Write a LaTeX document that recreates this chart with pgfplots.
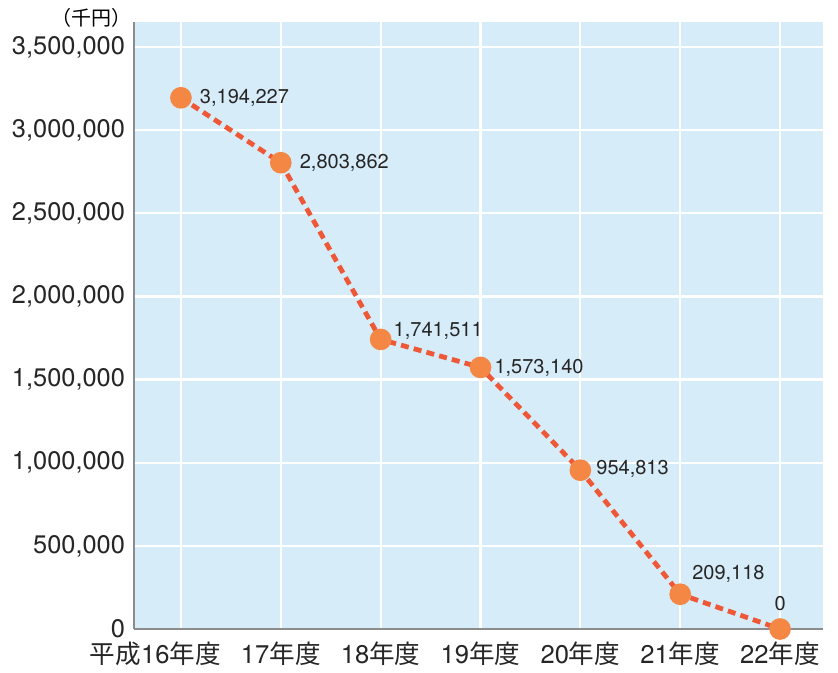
\documentclass[border=0pt]{standalone}
\usepackage{pgfplots}
\pgfplotsset{compat=1.18}
\usepackage{fontspec}
\setmainfont{TeX Gyre Heros}
\newfontfamily\jp{Noto Sans CJK JP}
\definecolor{bgblue}{RGB}{214,236,249}
\definecolor{lineorange}{RGB}{238,88,55}
\definecolor{markorange}{RGB}{244,135,68}
\definecolor{spine}{RGB}{140,140,140}
\begin{document}
\begin{tikzpicture}
\begin{axis}[
  scale only axis,
  width=344.5pt, height=303.5pt,
  xmin=-0.47, xmax=6.43,
  ymin=0, ymax=3650000,
  axis background/.style={fill=bgblue},
  axis x line=bottom, axis y line=left,
  axis line style={spine, line width=0.8pt, -},
  xtick={0,...,6},
  xticklabels={\llap{\jp 平成}16{\jp 年度},17{\jp 年度},18{\jp 年度},19{\jp 年度},20{\jp 年度},21{\jp 年度},22{\jp 年度}},
  ytick={0,500000,1000000,1500000,2000000,2500000,3000000,3500000},
  yticklabels={0,{500,000},{1,000,000},{1,500,000},{2,000,000},{2,500,000},{3,000,000},{3,500,000}},
  scaled y ticks=false,
  major tick length=0pt,
  grid=major,
  grid style={white, line width=1.1pt},
  tick label style={color=black!85},
  yticklabel style={font=\fontsize{12.7pt}{14pt}\selectfont, xshift=-1pt},
  xticklabel style={font=\fontsize{12.8pt}{14pt}\selectfont, yshift=-3pt},
  clip=false,
]
\addplot[lineorange, line width=2.4pt, dash pattern=on 4pt off 2.6pt,
  mark=*, mark size=4.2pt, mark options={solid, fill=markorange, draw=markorange}]
  coordinates {(0,3194227)(1,2803862)(2,1741511)(3,1573140)(4,954813)(5,209118)(6,0)};
\begin{scope}[every node/.style={font=\fontsize{10pt}{12pt}\selectfont, color=black!85}]
\node[anchor=west] at (axis cs:0.12,3194227) {3,194,227};
\node[anchor=west] at (axis cs:1.12,2803862) {2,803,862};
\node[anchor=west] at (axis cs:2.06,1795000) {1,741,511};
\node[anchor=west] at (axis cs:3.07,1573140) {1,573,140};
\node[anchor=west] at (axis cs:4.09,960000) {954,813};
\node[anchor=west] at (axis cs:5.05,330000) {209,118};
\node[anchor=south] at (axis cs:6,70000) {0};
\end{scope}
\node[anchor=east, font=\jp\fontsize{10pt}{11pt}\selectfont, inner sep=0pt] at ([xshift=-1pt,yshift=2pt]rel axis cs:0,1) {（千円）};
\coordinate (sw) at (rel axis cs:0,0);
\end{axis}
\path[use as bounding box] ([shift={(-67pt,-21pt)}]sw) rectangle ++(419pt,335.5pt);
\end{tikzpicture}
\end{document}
